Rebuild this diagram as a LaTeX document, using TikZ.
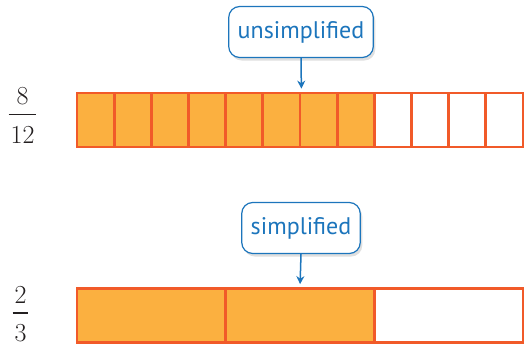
\documentclass[tikz,border=0pt]{standalone}
\usepackage{fontspec}
\setsansfont{PT Sans}
\usetikzlibrary{arrows.meta,positioning,shadows}
\definecolor{barfill}{HTML}{FBB040}
\definecolor{barline}{HTML}{F15A29}
\definecolor{calloutblue}{HTML}{1C75BC}
\definecolor{fracink}{HTML}{231F20}
% stacked fraction in text
\newcommand{\fracstack}[2]{%
  \setlength{\arrayrulewidth}{1.2pt}%
  \begin{tabular}{@{\hspace{2pt}}c@{\hspace{2pt}}}#1\\\hline\rule{0pt}{28pt}#2\end{tabular}}
\tikzset{
    %Define standard arrow tip
    >={Stealth[length=8pt,width=8pt]},
    %Define style for the cells of a bar
    cellbox/.style={
           rectangle,
           draw=barline, line width=2.8pt,
           inner sep=0pt,
           minimum height=54pt},
    cellfull/.style={cellbox, fill=barfill},
    cellempty/.style={cellbox, fill=white},
    % Define style for the callouts
    callout/.style={
           rectangle,
           rounded corners=11pt,
           draw=calloutblue, line width=1.2pt,
           fill=white,
           text=calloutblue,
           font=\sffamily\fontsize{24}{28}\selectfont,
           inner xsep=9pt,
           minimum height=51pt,
           drop shadow={shadow xshift=2pt, shadow yshift=-3pt, opacity=0.25}},
    % Define arrow style
    pilcall/.style={
           ->,
           draw=calloutblue,
           line width=1.5pt,
           shorten >=3pt,},
    fraclabel/.style={
           inner sep=0pt,
           text=fracink,
           font=\fontsize{26}{30}\selectfont}
}
\begin{document}
\begin{tikzpicture}[x=1pt, y=-1pt]
         \useasboundingbox (0,0) rectangle (525,346);
         %bar of twelfths
         \foreach \i in {1,...,12} {
           \ifnum\i<9
             \node[cellfull, minimum width=37.17pt] (tw\i) at ({77+37.17*(\i-0.5)},120) {};
           \else
             \node[cellempty, minimum width=37.17pt] (tw\i) at ({77+37.17*(\i-0.5)},120) {};
           \fi
         }
         %bar of thirds
         \foreach \i in {1,...,3} {
           \ifnum\i<3
             \node[cellfull, minimum width=148.67pt] (th\i) at ({77+148.67*(\i-0.5)},315.5) {};
           \else
             \node[cellempty, minimum width=148.67pt] (th\i) at ({77+148.67*(\i-0.5)},315.5) {};
           \fi
         }
         %fractions
         \node[fraclabel] (eightfr) at (22.5,118) {\fracstack{8}{12}};
         \node[fraclabel] (twofr) at (20.5,316.5) {\fracstack{2}{3}};
         %callouts
         \node[callout] (unsimp) at (301,32) {unsimplified};
         \node[callout] (simp) at (301,228) {simplified};
         \draw[pilcall] (unsimp.south) -- (tw6.north east);
         \draw[pilcall] (simp.south) -- (th2.north);
        \end{tikzpicture}
\end{document}
